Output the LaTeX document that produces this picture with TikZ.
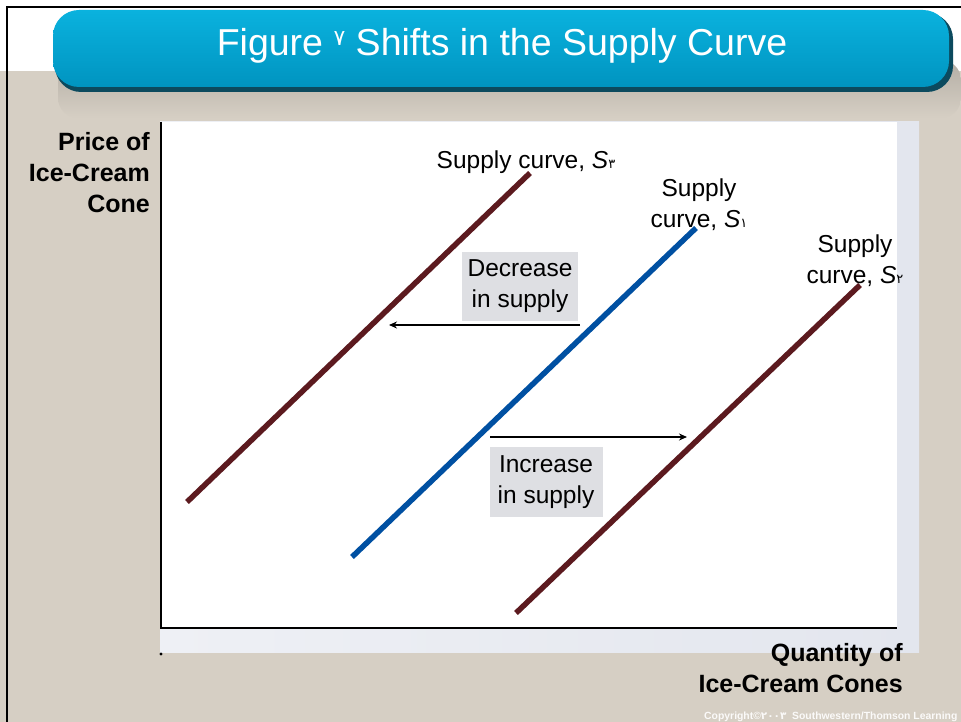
\documentclass[tikz,border=0pt]{standalone}
\usepackage{fontspec}
\setmainfont{Liberation Sans}
\newfontfamily\arfont{DejaVu Sans}
\usetikzlibrary{arrows.meta}
\definecolor{beige}{HTML}{D6CFC4}
\definecolor{barcyan}{HTML}{0AB2DE}
\definecolor{bardark}{HTML}{0094C0}
\definecolor{barshadow}{HTML}{0C4A5E}
\definecolor{strip}{HTML}{E3E6EE}
\definecolor{boxgrey}{HTML}{DEDFE3}
\definecolor{maroon}{HTML}{5C1A1F}
\definecolor{sblue}{HTML}{0050A2}
\tikzset{
  curve/.style={line width=5.5pt},
  lab/.style={font=\fontsize{24.5}{31}\selectfont, align=center, inner sep=0pt},
  axlab/.style={font=\fontsize{25}{31}\selectfont\bfseries, inner sep=0pt},
  shiftbox/.style={fill=boxgrey, font=\fontsize{24.5}{31}\selectfont, align=center, minimum width=116pt, minimum height=69pt, inner sep=0pt},
  shiftarrow/.style={line width=1.4pt, -{Stealth[length=8pt,width=7pt]}}
}
\newcommand{\sub}[1]{{\arfont\fontsize{13}{13}\selectfont #1}}
\begin{document}
\begin{tikzpicture}[x=1pt,y=-1pt]
\useasboundingbox (0,0) rectangle (961,722);
\fill[white] (0,0) rectangle (961,722);
\fill[beige] (0,71) rectangle (961,722);
\shade[top color=beige!84!black, bottom color=beige, rounded corners=20pt] (58,60) rectangle (961,118);
\fill[beige] (0,118) rectangle (961,122);
% frame
\draw[line width=2.6pt] (7,722) -- (7,7) -- (961,7);
% title bar
\fill[barshadow, rounded corners=26pt] (55,13) rectangle (953,92);
\shade[top color=barcyan, bottom color=bardark, rounded corners=26pt] (53,10) rectangle (949,87);
\node[text=white, font=\fontsize{37.5}{40}\selectfont, inner sep=0pt] (title) at (502,46) {Figure \raisebox{0.28em}{\arfont\fontsize{22}{22}\selectfont ٧} Shifts in the Supply Curve};
% plot area
\shade[left color=strip!60!white, right color=strip] (160,122) rectangle (919,652);
\fill[white] (160,122) rectangle (897,628);
\coordinate (ytop) at (161,122);
\coordinate (origin) at (161,628);
\coordinate (xend) at (897,628);
\draw[line width=2.2pt] (ytop) -- (origin) -- (xend);
\fill[black] (161,654) circle (1.6pt);
% axis labels
\node[axlab, align=right, anchor=north east] (ylab) at (150,132) {Price of\\Ice-Cream\\Cone};
\node[axlab, align=right, anchor=north east] (xlab) at (903,643) {Quantity of\\Ice-Cream Cones};
% curves
\coordinate (s3a) at (187,502); \coordinate (s3b) at (530,173);
\coordinate (s1a) at (352,557); \coordinate (s1b) at (696,228);
\coordinate (s2a) at (516,613); \coordinate (s2b) at (860,285);
\draw[curve, maroon] (s3a) -- (s3b);
\draw[curve, sblue] (s1a) -- (s1b);
\draw[curve, maroon] (s2a) -- (s2b);
% curve labels
\node[lab] (l3) at (526,162) {Supply curve, \textit{S}\sub{٣}};
\node[lab] (l1) at (699,205) {Supply\\curve, \textit{S}\sub{١}};
\node[lab] (l2) at (855,261) {Supply\\curve, \textit{S}\sub{٢}};
% shift boxes
\node[shiftbox] (dec) at (520,286) {Decrease\\in supply};
\node[shiftbox, minimum width=113pt, minimum height=70pt] (inc) at (546,482) {Increase\\in supply};
\coordinate (decs) at (580,325); \coordinate (dece) at (389,325);
\coordinate (incs) at (490,437); \coordinate (ince) at (687,437);
\draw[shiftarrow] (decs) -- (dece);
\draw[shiftarrow] (incs) -- (ince);
% copyright
\node[anchor=west, text=white!90!beige, font=\fontsize{10.4}{12}\selectfont\bfseries, inner sep=0pt] (copy) at (704,717) {Copyright©{\arfont ٢٠٠٣}\ \ Southwestern/Thomson Learning};
\end{tikzpicture}
\end{document}
